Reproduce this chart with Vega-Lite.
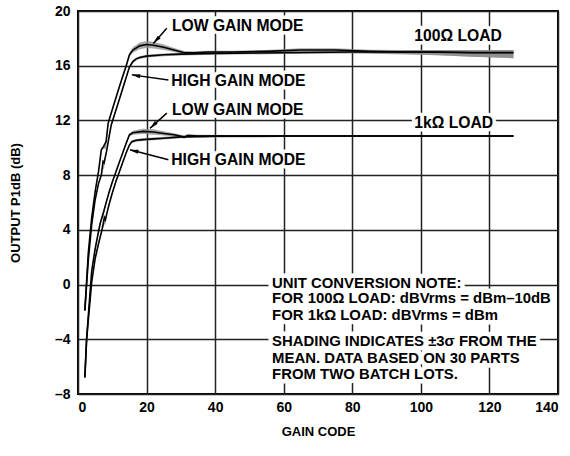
{
  "$schema": "https://vega.github.io/schema/vega-lite/v6.json",
  "width": 480,
  "height": 383,
  "autosize": "none",
  "padding": {"left": 78, "top": 11, "right": 12, "bottom": 62},
  "background": "white",
  "config": {
    "font": "Liberation Sans",
    "view": {"stroke": "black", "strokeWidth": 2},
    "axis": {
      "labelFont": "Liberation Sans", "labelFontWeight": "bold", "labelFontSize": 14, "labelColor": "black",
      "titleFont": "Liberation Sans", "titleFontWeight": "bold", "titleFontSize": 13, "titleColor": "black",
      "domain": false, "ticks": false, "tickSize": 0,
      "grid": true, "gridColor": "#222", "gridWidth": 1.5, "gridOpacity": 1
    }
  },
  "datasets": {
    "curves": [
      {"s":"L100","x":2,"y":-1.9,"lo":-1.98,"hi":-1.82},
      {"s":"L100","x":3,"y":2.3,"lo":2.22,"hi":2.38},
      {"s":"L100","x":4,"y":4.9,"lo":4.82,"hi":4.98},
      {"s":"L100","x":5,"y":6.8,"lo":6.72,"hi":6.88},
      {"s":"L100","x":6,"y":8.3,"lo":8.2,"hi":8.4},
      {"s":"L100","x":6.8,"y":9.85,"lo":9.75,"hi":9.95},
      {"s":"L100","x":7.5,"y":10.1,"lo":9.95,"hi":10.25},
      {"s":"L100","x":8.2,"y":10.45,"lo":9.9,"hi":10.55},
      {"s":"L100","x":8.8,"y":11.8,"lo":11.7,"hi":11.9},
      {"s":"L100","x":10,"y":12.8,"lo":12.72,"hi":12.88},
      {"s":"L100","x":11,"y":13.6,"lo":13.52,"hi":13.68},
      {"s":"L100","x":12,"y":14.4,"lo":14.32,"hi":14.48},
      {"s":"L100","x":13,"y":15.2,"lo":15.12,"hi":15.28},
      {"s":"L100","x":14,"y":15.95,"lo":15.85,"hi":16.05},
      {"s":"L100","x":15,"y":16.8,"lo":16.65,"hi":16.95},
      {"s":"L100","x":16,"y":17.15,"lo":16.95,"hi":17.35},
      {"s":"L100","x":18,"y":17.45,"lo":17.2,"hi":17.7},
      {"s":"L100","x":20,"y":17.55,"lo":17.3,"hi":17.8},
      {"s":"L100","x":22,"y":17.5,"lo":17.25,"hi":17.75},
      {"s":"L100","x":25,"y":17.35,"lo":17.15,"hi":17.55},
      {"s":"L100","x":28,"y":17.15,"lo":17.0,"hi":17.3},
      {"s":"L100","x":31,"y":16.95,"lo":16.83,"hi":17.07},
      {"s":"L100","x":34,"y":16.95,"lo":16.85,"hi":17.05},
      {"s":"L100","x":38,"y":17.0,"lo":16.9,"hi":17.1},
      {"s":"L100","x":45,"y":17.0,"lo":16.9,"hi":17.1},
      {"s":"L100","x":55,"y":17.05,"lo":16.95,"hi":17.15},
      {"s":"L100","x":65,"y":17.15,"lo":17.03,"hi":17.27},
      {"s":"L100","x":75,"y":17.15,"lo":17.03,"hi":17.27},
      {"s":"L100","x":85,"y":17.05,"lo":16.93,"hi":17.17},
      {"s":"L100","x":95,"y":17.0,"lo":16.85,"hi":17.15},
      {"s":"L100","x":105,"y":17.0,"lo":16.78,"hi":17.15},
      {"s":"L100","x":115,"y":16.97,"lo":16.65,"hi":17.15},
      {"s":"L100","x":127,"y":16.97,"lo":16.55,"hi":17.15},

      {"s":"H100","x":2,"y":-1.9,"lo":-1.98,"hi":-1.82},
      {"s":"H100","x":3,"y":1.8,"lo":1.72,"hi":1.88},
      {"s":"H100","x":4,"y":4.4,"lo":4.32,"hi":4.48},
      {"s":"H100","x":5,"y":6.2,"lo":6.12,"hi":6.28},
      {"s":"H100","x":6,"y":7.4,"lo":7.32,"hi":7.48},
      {"s":"H100","x":6.8,"y":8.0,"lo":7.9,"hi":8.1},
      {"s":"H100","x":7.3,"y":9.0,"lo":8.4,"hi":9.1},
      {"s":"H100","x":7.6,"y":8.9,"lo":8.5,"hi":9.0},
      {"s":"H100","x":8.3,"y":9.7,"lo":9.6,"hi":9.8},
      {"s":"H100","x":9,"y":10.7,"lo":10.62,"hi":10.78},
      {"s":"H100","x":9.7,"y":11.67,"lo":11.59,"hi":11.75},
      {"s":"H100","x":11,"y":12.7,"lo":12.62,"hi":12.78},
      {"s":"H100","x":12,"y":13.5,"lo":13.42,"hi":13.58},
      {"s":"H100","x":13,"y":14.3,"lo":14.22,"hi":14.38},
      {"s":"H100","x":14,"y":15.1,"lo":15.02,"hi":15.18},
      {"s":"H100","x":15,"y":15.9,"lo":15.8,"hi":16.0},
      {"s":"H100","x":16,"y":16.3,"lo":16.2,"hi":16.4},
      {"s":"H100","x":17,"y":16.5,"lo":16.4,"hi":16.6},
      {"s":"H100","x":18,"y":16.6,"lo":16.5,"hi":16.7},
      {"s":"H100","x":20,"y":16.7,"lo":16.6,"hi":16.8},
      {"s":"H100","x":25,"y":16.8,"lo":16.7,"hi":16.9},
      {"s":"H100","x":30,"y":16.85,"lo":16.75,"hi":16.95},
      {"s":"H100","x":40,"y":16.9,"lo":16.8,"hi":17.0},
      {"s":"H100","x":60,"y":16.95,"lo":16.85,"hi":17.05},
      {"s":"H100","x":80,"y":17.0,"lo":16.9,"hi":17.1},
      {"s":"H100","x":100,"y":17.0,"lo":16.8,"hi":17.15},
      {"s":"H100","x":115,"y":16.95,"lo":16.65,"hi":17.15},
      {"s":"H100","x":127,"y":16.95,"lo":16.55,"hi":17.15},

      {"s":"L1k","x":2,"y":-6.8,"lo":-6.88,"hi":-6.72},
      {"s":"L1k","x":2.5,"y":-4.0,"lo":-4.08,"hi":-3.92},
      {"s":"L1k","x":3,"y":-2.3,"lo":-2.38,"hi":-2.22},
      {"s":"L1k","x":4,"y":1.0,"lo":0.92,"hi":1.08},
      {"s":"L1k","x":5,"y":2.6,"lo":2.52,"hi":2.68},
      {"s":"L1k","x":6,"y":3.9,"lo":3.82,"hi":3.98},
      {"s":"L1k","x":6.5,"y":4.5,"lo":4.4,"hi":4.6},
      {"s":"L1k","x":7.5,"y":5.34,"lo":5.0,"hi":5.45},
      {"s":"L1k","x":8,"y":5.8,"lo":5.7,"hi":5.9},
      {"s":"L1k","x":9,"y":6.7,"lo":6.62,"hi":6.78},
      {"s":"L1k","x":10,"y":7.5,"lo":7.42,"hi":7.58},
      {"s":"L1k","x":11,"y":8.2,"lo":8.12,"hi":8.28},
      {"s":"L1k","x":12,"y":8.9,"lo":8.82,"hi":8.98},
      {"s":"L1k","x":13,"y":9.6,"lo":9.52,"hi":9.68},
      {"s":"L1k","x":14,"y":10.3,"lo":10.2,"hi":10.4},
      {"s":"L1k","x":15,"y":10.95,"lo":10.83,"hi":11.07},
      {"s":"L1k","x":16,"y":11.1,"lo":10.95,"hi":11.25},
      {"s":"L1k","x":19,"y":11.2,"lo":11.0,"hi":11.4},
      {"s":"L1k","x":22,"y":11.15,"lo":10.95,"hi":11.35},
      {"s":"L1k","x":25,"y":11.05,"lo":10.9,"hi":11.2},
      {"s":"L1k","x":28,"y":10.95,"lo":10.83,"hi":11.07},
      {"s":"L1k","x":30,"y":10.85,"lo":10.75,"hi":10.95},
      {"s":"L1k","x":31,"y":10.78,"lo":10.68,"hi":10.88},
      {"s":"L1k","x":32,"y":10.9,"lo":10.8,"hi":11.0},
      {"s":"L1k","x":35,"y":10.85,"lo":10.75,"hi":10.95},
      {"s":"L1k","x":45,"y":10.85,"lo":10.77,"hi":10.93},
      {"s":"L1k","x":60,"y":10.86,"lo":10.78,"hi":10.94},
      {"s":"L1k","x":80,"y":10.86,"lo":10.78,"hi":10.94},
      {"s":"L1k","x":100,"y":10.86,"lo":10.78,"hi":10.94},
      {"s":"L1k","x":127,"y":10.86,"lo":10.78,"hi":10.94},

      {"s":"H1k","x":2,"y":-6.8,"lo":-6.88,"hi":-6.72},
      {"s":"H1k","x":2.5,"y":-4.1,"lo":-4.18,"hi":-4.02},
      {"s":"H1k","x":3,"y":-2.6,"lo":-2.68,"hi":-2.52},
      {"s":"H1k","x":4,"y":0.2,"lo":0.12,"hi":0.28},
      {"s":"H1k","x":5,"y":1.9,"lo":1.82,"hi":1.98},
      {"s":"H1k","x":6,"y":3.0,"lo":2.92,"hi":3.08},
      {"s":"H1k","x":7,"y":4.0,"lo":3.9,"hi":4.1},
      {"s":"H1k","x":7.7,"y":4.9,"lo":4.4,"hi":5.0},
      {"s":"H1k","x":8,"y":4.75,"lo":4.4,"hi":4.85},
      {"s":"H1k","x":8.5,"y":5.3,"lo":5.22,"hi":5.38},
      {"s":"H1k","x":9,"y":5.8,"lo":5.72,"hi":5.88},
      {"s":"H1k","x":10,"y":6.7,"lo":6.62,"hi":6.78},
      {"s":"H1k","x":11,"y":7.5,"lo":7.42,"hi":7.58},
      {"s":"H1k","x":12,"y":8.2,"lo":8.12,"hi":8.28},
      {"s":"H1k","x":13,"y":8.9,"lo":8.82,"hi":8.98},
      {"s":"H1k","x":14,"y":9.6,"lo":9.52,"hi":9.68},
      {"s":"H1k","x":15,"y":10.2,"lo":10.1,"hi":10.3},
      {"s":"H1k","x":15.7,"y":10.45,"lo":10.35,"hi":10.55},
      {"s":"H1k","x":17,"y":10.55,"lo":10.45,"hi":10.65},
      {"s":"H1k","x":19,"y":10.6,"lo":10.5,"hi":10.7},
      {"s":"H1k","x":22,"y":10.65,"lo":10.55,"hi":10.75},
      {"s":"H1k","x":25,"y":10.7,"lo":10.6,"hi":10.8},
      {"s":"H1k","x":30,"y":10.8,"lo":10.7,"hi":10.9},
      {"s":"H1k","x":40,"y":10.85,"lo":10.77,"hi":10.93},
      {"s":"H1k","x":60,"y":10.86,"lo":10.78,"hi":10.94},
      {"s":"H1k","x":80,"y":10.86,"lo":10.78,"hi":10.94},
      {"s":"H1k","x":100,"y":10.86,"lo":10.78,"hi":10.94},
      {"s":"H1k","x":127,"y":10.86,"lo":10.78,"hi":10.94}
    ],
    "arrows": [
      {"a":"A1","x":25.9,"y":18.73,"x2":22.0,"y2":17.63,"hx":22.77,"hy":17.86},
      {"a":"A2","x":26.4,"y":14.96,"x2":15.7,"y2":15.33,"hx":16.85,"hy":15.29},
      {"a":"A3","x":25.9,"y":12.53,"x2":21.0,"y2":11.43,"hx":21.9,"hy":11.63},
      {"a":"A4","x":26.4,"y":9.12,"x2":15.2,"y2":9.85,"hx":16.3,"hy":9.77}
    ],
    "labels": [
      {"t":"LOW GAIN MODE","x":27.4,"y":18.87},
      {"t":"HIGH GAIN MODE","x":27.2,"y":14.9},
      {"t":"LOW GAIN MODE","x":27.4,"y":12.77},
      {"t":"HIGH GAIN MODE","x":27.2,"y":9.12},
      {"t":"100Ω LOAD","x":98.1,"y":18.14},
      {"t":"1kΩ LOAD","x":98.1,"y":11.82}
    ],
    "note": [
      {"t":"UNIT CONVERSION NOTE:","x":56.6,"y":0.07},
      {"t":"FOR 100Ω LOAD: dBVrms = dBm–10dB","x":56.6,"y":-1.09},
      {"t":"FOR 1kΩ LOAD: dBVrms = dBm","x":56.6,"y":-2.28},
      {"t":"SHADING INDICATES ±3σ FROM THE","x":56.6,"y":-4.2},
      {"t":"MEAN. DATA BASED ON 30 PARTS","x":56.6,"y":-5.42},
      {"t":"FROM TWO BATCH LOTS.","x":56.6,"y":-6.64}
    ]
  },
  "layer": [
    {
      "data": {"name": "curves"},
      "mark": {"type": "area", "color": "#8a8a8a", "opacity": 0.75},
      "encoding": {
        "x": {"field": "x", "type": "quantitative", "scale": {"domain": [0, 140]},
              "axis": {"values": [0, 20, 40, 60, 80, 100, 120, 140], "title": "GAIN CODE", "labelPadding": 6, "titlePadding": 11}},
        "y": {"field": "lo", "type": "quantitative", "scale": {"domain": [-8, 20]},
              "axis": {"values": [-8, -4, 0, 4, 8, 12, 16, 20], "title": "OUTPUT P1dB (dB)", "labelPadding": 8, "titlePadding": 32,
                       "labelExpr": "replace(datum.label, '−', '–')"}},
        "y2": {"field": "hi"},
        "detail": {"field": "s"}
      }
    },
    {
      "data": {"name": "curves"},
      "mark": {"type": "line", "color": "black", "strokeWidth": 1.6},
      "encoding": {
        "x": {"field": "x", "type": "quantitative"},
        "y": {"field": "y", "type": "quantitative"},
        "detail": {"field": "s"}
      }
    },
    {
      "data": {"name": "arrows"},
      "mark": {"type": "rule", "color": "black", "strokeWidth": 1.5},
      "encoding": {
        "x": {"field": "x", "type": "quantitative"},
        "y": {"field": "y", "type": "quantitative"},
        "x2": {"field": "x2"},
        "y2": {"field": "y2"}
      }
    },
    {
      "data": {"name": "arrows"},
      "transform": [{"filter": "datum.a == 'A1' || datum.a == 'A3'"}],
      "mark": {"type": "point", "shape": "M0,-1L-0.45,1L0.45,1Z", "filled": true, "color": "black", "size": 80, "angle": 225, "opacity": 1},
      "encoding": {
        "x": {"field": "hx", "type": "quantitative"},
        "y": {"field": "hy", "type": "quantitative"}
      }
    },
    {
      "data": {"name": "arrows"},
      "transform": [{"filter": "datum.a == 'A2' || datum.a == 'A4'"}],
      "mark": {"type": "point", "shape": "M0,-1L-0.45,1L0.45,1Z", "filled": true, "color": "black", "size": 80, "angle": 281, "opacity": 1},
      "encoding": {
        "x": {"field": "hx", "type": "quantitative"},
        "y": {"field": "hy", "type": "quantitative"}
      }
    },
    {
      "data": {"name": "labels"},
      "mark": {"type": "text", "align": "left", "baseline": "middle", "fontWeight": "bold", "fontSize": 15.7, "fill": "white", "stroke": "white", "strokeWidth": 7, "strokeJoin": "round"},
      "encoding": {
        "x": {"field": "x", "type": "quantitative"},
        "y": {"field": "y", "type": "quantitative"},
        "text": {"field": "t"}
      }
    },
    {
      "data": {"name": "labels"},
      "mark": {"type": "text", "align": "left", "baseline": "middle", "fontWeight": "bold", "fontSize": 15.7, "color": "black"},
      "encoding": {
        "x": {"field": "x", "type": "quantitative"},
        "y": {"field": "y", "type": "quantitative"},
        "text": {"field": "t"}
      }
    },
    {
      "data": {"name": "note"},
      "mark": {"type": "text", "align": "left", "baseline": "middle", "fontWeight": "bold", "fontSize": 14.9, "fill": "white", "stroke": "white", "strokeWidth": 9, "strokeJoin": "round"},
      "encoding": {
        "x": {"field": "x", "type": "quantitative"},
        "y": {"field": "y", "type": "quantitative"},
        "text": {"field": "t"}
      }
    },
    {
      "data": {"name": "note"},
      "mark": {"type": "text", "align": "left", "baseline": "middle", "fontWeight": "bold", "fontSize": 14.9, "color": "black"},
      "encoding": {
        "x": {"field": "x", "type": "quantitative"},
        "y": {"field": "y", "type": "quantitative"},
        "text": {"field": "t"}
      }
    }
  ]
}
